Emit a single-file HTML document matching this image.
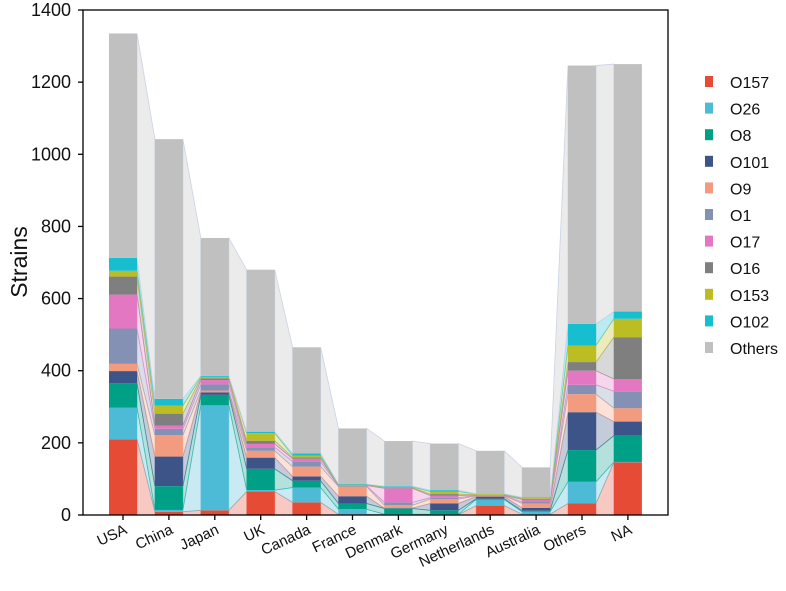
<!DOCTYPE html>
<html><head><meta charset="utf-8"><style>
body{margin:0;background:#fff;}
svg text{font-family:"Liberation Sans",Arial,sans-serif;}
</style></head><body>
<svg id="chart" width="786" height="586" xmlns="http://www.w3.org/2000/svg">
<g id="ribbons"></g>
<g id="bars"></g>
<g id="axes"></g>
<g id="legend"></g>
</svg>
<script>
const categories = ["USA","China","Japan","UK","Canada","France","Denmark","Germany","Netherlands","Australia","Others","NA"];
const seriesNames = ["O157","O26","O8","O101","O9","O1","O17","O16","O153","O102","Others"];
const seriesColors = ["#e64b35","#4dbbd5","#00a087","#3c5488","#f39b7f","#8491b4","#e377c2","#7f7f7f","#bcbd22","#17becf","#c0c0c0"];
const vO157   = [210,9,13,65,35,2,1,1,26,2,32,146];
const vO26    = [88,5,291,4,41,14,1,1,17,7,60,1];
const vO8     = [67,66,29,59,19,16,16,11,2,3,88,73];
const vO101   = [34,82,7,31,12,20,1,19,6,8,105,39];
const vO9     = [20,59,5,19,27,27,8,12,2,12,50,37];
const vO1     = [98,18,17,10,14,2,8,4,1,4,26,47];
const vO17    = [94,9,12,9,8,1,39,6,1,7,39,34];
const vO16    = [50,33,5,9,4,1,2,4,1,2,24,116];
const vO153   = [16,22,4,21,5,1,2,7,2,2,46,51];
const vO102   = [36,19,3,4,6,2,2,4,1,2,60,20];
const vOthers = [622,720,382,449,294,154,125,129,119,83,716,686];
const series = [vO157,vO26,vO8,vO101,vO9,vO1,vO17,vO16,vO153,vO102,vOthers];
const yTicks = [0,200,400,600,800,1000,1200,1400];

const NS="http://www.w3.org/2000/svg";
const X0=123, STEP=45.9, BW=28, Y0=515, YTOP=10, YMAX=1400, AXL=83, AXR=668;
const xs=i=>X0+STEP*i;
const ys=v=>Y0-(v/YMAX)*(Y0-YTOP);
function mk(tag,attrs,parent){const e=document.createElementNS(NS,tag);for(const k in attrs)e.setAttribute(k,attrs[k]);parent.appendChild(e);return e;}

// cumulative stacks
const cum=categories.map((c,i)=>{let s=0;return series.map(arr=>{const b=s;s+=arr[i];return [b,s];});});

const rib=document.getElementById('ribbons');
for(let i=0;i<categories.length-1;i++){
  for(let k=0;k<series.length;k++){
    const a=cum[i][k], b=cum[i+1][k];
    const x1=xs(i)+BW/2, x2=xs(i+1)-BW/2;
    const isO=k===series.length-1;
    const p=mk('polygon',{points:`${x1},${ys(a[0])} ${x1},${ys(a[1])} ${x2},${ys(b[1])} ${x2},${ys(b[0])}`,
      fill:isO?'#ebebeb':seriesColors[k],'fill-opacity':isO?1:0.3,
      stroke:isO?'#c9d3e6':seriesColors[k],'stroke-opacity':isO?1:0.5,'stroke-width':0.8},rib);
    
    
  }
}
const bars=document.getElementById('bars');
categories.forEach((c,i)=>{
  series.forEach((arr,k)=>{
    const s=cum[i][k];
    const r=mk('rect',{x:xs(i)-BW/2,y:ys(s[1]),width:BW,height:Math.max(0,ys(s[0])-ys(s[1])),fill:seriesColors[k]},bars);
    
    
  });
});
const ax=document.getElementById('axes');
const frame=mk('rect',{x:AXL,y:YTOP,width:AXR-AXL,height:Y0-YTOP,fill:'none',stroke:'#000','stroke-width':1.3},ax);


yTicks.forEach(t=>{
  const y=ys(t);
  mk('line',{x1:AXL-5,x2:AXL,y1:y,y2:y,stroke:'#000','stroke-width':1.3},ax);
  const tx=mk('text',{x:AXL-12,y:y+6,'text-anchor':'end','font-size':18,fill:'#111'},ax);
  tx.textContent=t;
  
  
});
categories.forEach((c,i)=>{
  const x=xs(i);
  mk('line',{x1:x,x2:x,y1:Y0,y2:Y0+5,stroke:'#000','stroke-width':1.3},ax);
  const tx=mk('text',{x:x+5,y:Y0+18,'text-anchor':'end','font-size':15,fill:'#111',transform:`rotate(-25 ${x+5} ${Y0+18})`},ax);
  tx.textContent=c;
  
  
});
const yt=mk('text',{x:0,y:0,'text-anchor':'middle','font-size':23,fill:'#111',transform:'translate(27 262) rotate(-90)'},ax);
yt.textContent='Strains';



const lg=document.getElementById('legend');
seriesNames.forEach((n,k)=>{
  const y=82+26.6*k;
  const g=mk('g',{},lg);
  
  
  mk('rect',{x:705,y:y-6,width:8,height:11,fill:seriesColors[k]},g);
  const t=mk('text',{x:730,y:y+6,'font-size':16,fill:'#111'},g);
  t.textContent=n;
});
</script>
</body></html>
